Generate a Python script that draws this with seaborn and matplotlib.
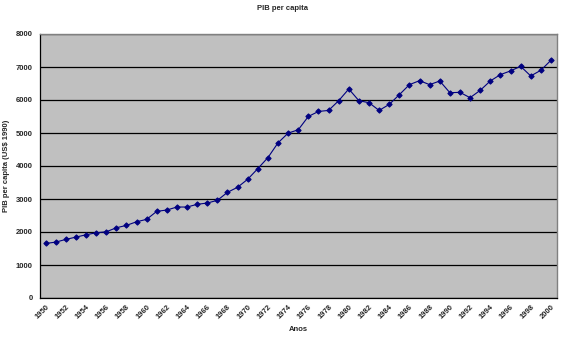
import matplotlib
matplotlib.use("Agg")
import matplotlib.pyplot as plt
import seaborn as sns
import numpy as np
import pandas as pd

years = list(range(1950, 2001))
pib = [1653, 1693, 1775, 1845, 1915, 1976, 2006, 2128, 2200, 2310,
       2383, 2626, 2666, 2757, 2757, 2839, 2878, 2960, 3203, 3356,
       3599, 3921, 4255, 4702, 4997, 5097, 5502, 5653, 5684, 5979,
       6334, 5979, 5918, 5684, 5866, 6161, 6465, 6586, 6465, 6576,
       6222, 6231, 6070, 6292, 6576, 6769, 6881, 7021, 6729, 6900,
       7203]
yticks = [0, 1000, 2000, 3000, 4000, 5000, 6000, 7000, 8000]
xtick_years = list(range(1950, 2001, 2))

df = pd.DataFrame({"Anos": years, "PIB": pib})

sns.set_style("white")
plt.rcParams['font.family'] = ['Liberation Sans', 'DejaVu Sans']

fig = plt.figure(figsize=(5.65, 3.43), dpi=100)
ax = fig.add_axes([39.5/565, 45/343, (557-39.5)/565, (298-34)/343])
ax.set_facecolor("#C0C0C0")

sns.lineplot(data=df, x="Anos", y="PIB", ax=ax, color="#000080", marker="D",
             markersize=2.7, markeredgecolor="#000080", linewidth=0.8, zorder=3)

ax.set_xlim(1949.4, 2000.6)
ax.set_ylim(0, 8000)
ax.set_yticks(yticks)
ax.set_yticklabels([str(v) for v in yticks], fontsize=5.5, fontweight="bold")
ax.set_xticks(xtick_years)
ax.set_xticklabels([str(y) for y in xtick_years], fontsize=5.5, fontweight="bold",
                   rotation=45, ha="right", rotation_mode="anchor")
ax.set_xticks(np.arange(1949.5, 2001, 1), minor=True)
ax.tick_params(axis="x", which="major", length=0, pad=4)
ax.tick_params(axis="x", which="minor", length=3, width=0.8, color="black", direction="out")
ax.tick_params(axis="y", length=3, width=0.8, color="black", direction="out", pad=2)

ax.yaxis.grid(True, color="black", linewidth=0.9)
ax.set_axisbelow(True)
for s in ["top", "right"]:
    ax.spines[s].set_color("#808080")
    ax.spines[s].set_linewidth(1)
for s in ["left", "bottom"]:
    ax.spines[s].set_color("black")
    ax.spines[s].set_linewidth(0.9)
    ax.spines[s].set_visible(True)
ax.spines["top"].set_visible(True)
ax.spines["right"].set_visible(True)

ax.set_xlabel("Anos", fontsize=5.5, fontweight="bold", labelpad=4)
ax.set_ylabel("PIB per capita (US$ 1990)", fontsize=5.5, fontweight="bold", labelpad=4)
fig.text(0.5, 1 - 9/343, "PIB per capita", ha="center", va="center",
         fontsize=5.5, fontweight="bold")

fig.savefig("out.png", dpi=100)
